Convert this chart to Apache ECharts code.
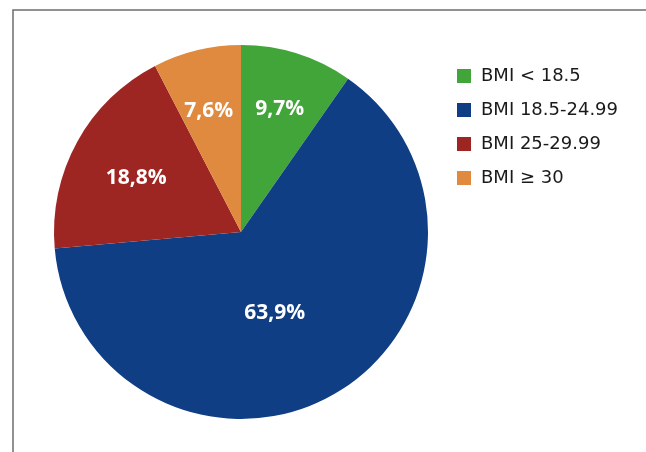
<!DOCTYPE html>
<html>
<head>
<meta charset="utf-8">
<script src="https://cdn.jsdelivr.net/npm/echarts@6/dist/echarts.min.js"></script>
<style>
  html, body { margin: 0; padding: 0; background: #ffffff; }
  #chart { width: 646px; height: 452px; }
</style>
</head>
<body>
<div id="chart"></div>
<script>
// BMI distribution (percent of respondents)
const categories = ['BMI < 18.5', 'BMI 18.5-24.99', 'BMI 25-29.99', 'BMI \u2265 30'];
const shares = [9.7, 63.9, 18.8, 7.6];
const sliceColors = ['#41A539', '#0F3E84', '#9E2622', '#E08A40'];
// value label placement: distance from centre (fraction of radius)
// and a small turn away from the slice's middle angle (degrees)
const labelRadius = [0.69, 0.47, 0.63, 0.67];
const labelTurn = [0, -7.5, 1.5, 1.3];

const CX = 241, CY = 232, R = 187;

const chart = echarts.init(document.getElementById('chart'), null, { renderer: 'canvas' });

chart.setOption({
  animation: false,
  backgroundColor: '#ffffff',
  graphic: [{
    type: 'rect',
    shape: { x: 13, y: 10, width: 700, height: 500 },
    style: { fill: 'none', stroke: '#6e6e6e', lineWidth: 1.5 },
    silent: true,
    z: 0
  }],
  legend: {
    orient: 'vertical',
    left: 457,
    top: 66,
    padding: 0,
    itemWidth: 14,
    itemHeight: 14,
    itemGap: 14,
    icon: 'rect',
    data: categories,
    textStyle: {
      fontFamily: 'DejaVu Sans',
      fontSize: 18,
      lineHeight: 20,
      color: '#1a1a1a',
      padding: [0, 0, 0, 5]
    }
  },
  series: [{
    type: 'pie',
    center: [CX, CY],
    radius: R,
    startAngle: 90,
    clockwise: true,
    avoidLabelOverlap: false,
    itemStyle: { borderWidth: 0 },
    label: {
      show: true,
      position: 'inside',
      formatter: p => p.value.toFixed(1).replace('.', ',') + '%',
      color: '#ffffff',
      fontFamily: 'Open Sans',
      fontWeight: 'bold',
      fontSize: 21
    },
    labelLine: { show: false },
    labelLayout: function (params) {
      const r = params.labelRect;
      const lx = r.x + r.width / 2;
      const ly = r.y + r.height / 2;
      const i = params.dataIndex;
      const a = Math.atan2(CY - ly, lx - CX) + labelTurn[i] * Math.PI / 180;
      const d = labelRadius[i] * R;
      return {
        dx: CX + d * Math.cos(a) - lx,
        dy: CY - d * Math.sin(a) - ly
      };
    },
    data: categories.map((name, i) => ({
      name: name,
      value: shares[i],
      itemStyle: { color: sliceColors[i] }
    }))
  }]
});
</script>
</body>
</html>
